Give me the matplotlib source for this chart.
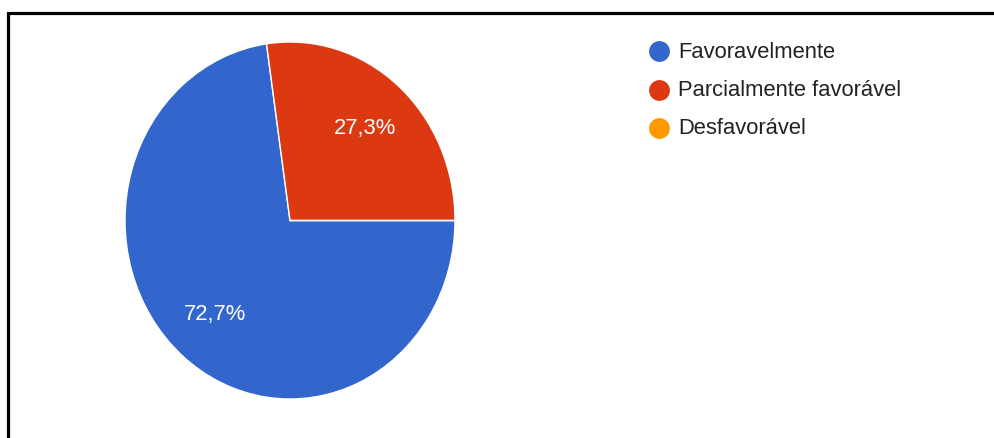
import matplotlib
matplotlib.use("Agg")
import matplotlib.pyplot as plt

plt.rcParams["font.family"] = ["Liberation Sans", "DejaVu Sans"]

categories = ["Favoravelmente", "Parcialmente favorável", "Desfavorável"]
counts = [8, 3, 0]
colors = ["#3366CC", "#DC3912", "#FF9900"]

W, H = 995, 439
fig = plt.figure(figsize=(W / 100, H / 100), dpi=100)


def fmt_pct(p):
    if p < 0.5:
        return ""
    return f"{p:.1f}%".replace(".", ",")


# pie sits in its own axes; aspect left free so it fills the box
ax = fig.add_axes([125 / W, 39 / H, 330 / W, 357 / H])
wedges, texts, autotexts = ax.pie(
    counts, colors=colors, startangle=0, counterclock=False,
    autopct=fmt_pct, pctdistance=0.69, radius=1.0,
    wedgeprops=dict(edgecolor="white", linewidth=1.0),
    textprops=dict(color="white", fontsize=15.8),
)
ax.set_aspect("auto")
ax.set_xlim(-1, 1)
ax.set_ylim(-1, 1)
ax.axis("off")

# overlay in pixel units for the frame and legend
ov = fig.add_axes([0, 0, 1, 1], zorder=-1)
ov.set_xlim(0, W)
ov.set_ylim(H, 0)
ov.axis("off")
ov.plot([8, 8, W + 5], [H + 5, 13.5, 13.5], color="black", lw=2.3,
        solid_joinstyle="miter")

leg = fig.add_axes([0, 0, 1, 1])
leg.set_xlim(0, W)
leg.set_ylim(H, 0)
leg.axis("off")
for i, (name, c) in enumerate(zip(categories, colors)):
    y = 52 + 38.5 * i
    leg.plot(659, y, "o", color=c, markersize=15, markeredgewidth=0)
    leg.text(678, y, name, fontsize=15.8, color="#222222",
             ha="left", va="center")

fig.savefig("out.png", dpi=100)
